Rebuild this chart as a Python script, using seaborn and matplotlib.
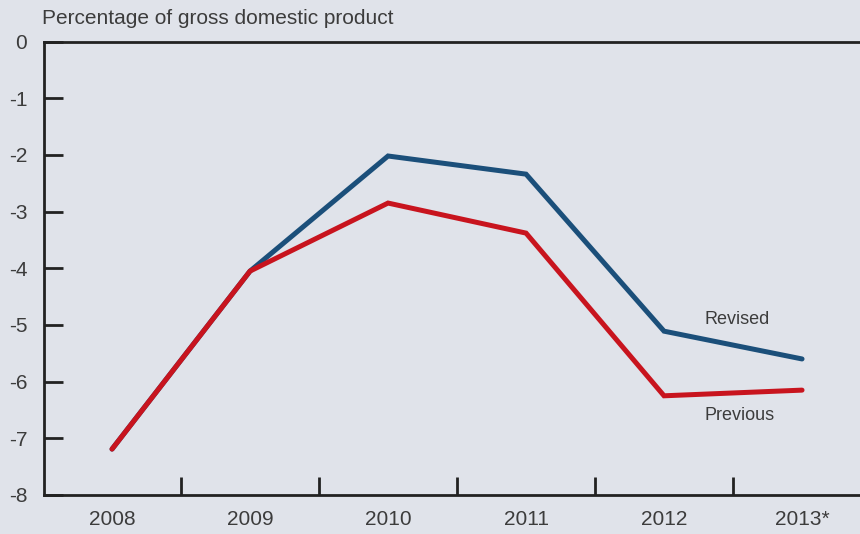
import matplotlib
matplotlib.use("Agg")
import matplotlib.pyplot as plt
import seaborn as sns
import pandas as pd

years = ["2008", "2009", "2010", "2011", "2012", "2013*"]
revised = [-7.19, -4.05, -2.02, -2.34, -5.11, -5.60]
previous = [-7.19, -4.05, -2.85, -3.38, -6.25, -6.15]
yticks = [0, -1, -2, -3, -4, -5, -6, -7, -8]

bg = "#e0e3ea"
txt = "#3c3c3c"
sns.set_theme(style="white")
plt.rcParams["font.family"] = ["Liberation Sans", "DejaVu Sans"]

df = pd.DataFrame({
    "x": list(range(len(years))) * 2,
    "value": revised + previous,
    "series": ["Revised"] * len(years) + ["Previous"] * len(years),
})

fig = plt.figure(figsize=(8.6, 5.34), dpi=100, facecolor=bg)
ax = fig.add_axes([44 / 860, 1 - 495 / 534, 1 - 44 / 860, (495 - 41.5) / 534])
ax.set_facecolor(bg)

sns.lineplot(data=df, x="x", y="value", hue="series",
             palette={"Revised": "#1b4f7a", "Previous": "#c8141e"},
             hue_order=["Revised", "Previous"],
             linewidth=3.6, legend=False, ax=ax, solid_capstyle="round",
             solid_joinstyle="miter")

ax.set_xlim(-0.493, 5.42)
ax.set_ylim(-8, 0)
ax.set_xticks(range(len(years)))
ax.set_xticklabels(years)
ax.set_xticks([i + 0.5 for i in range(len(years) - 1)], minor=True)
ax.set_yticks(yticks)
ax.set_yticklabels([str(v) for v in yticks])
ax.set_xlabel("")
ax.set_ylabel("")

for s in ["left", "bottom", "top"]:
    ax.spines[s].set_visible(True)
    ax.spines[s].set_color("#222222")
    ax.spines[s].set_linewidth(2.0)
ax.spines["right"].set_visible(False)

ax.tick_params(axis="y", which="major", direction="in", length=14, width=2,
               color="#222222", labelsize=15, labelcolor=txt, pad=12, left=True)
ax.tick_params(axis="x", which="major", length=0, labelsize=15,
               labelcolor=txt, pad=11, bottom=True)
ax.tick_params(axis="x", which="minor", direction="in", length=13, width=2,
               color="#222222", bottom=True)

ax.text(4.53, -4.91, "Revised", ha="center", va="center", fontsize=13, color=txt)
ax.text(4.55, -6.59, "Previous", ha="center", va="center", fontsize=13, color=txt)

fig.text(42 / 860, 1 - 18 / 534, "Percentage of gross domestic product",
         ha="left", va="center", fontsize=15, color=txt)

fig.savefig("out.png", dpi=100, facecolor=bg)
